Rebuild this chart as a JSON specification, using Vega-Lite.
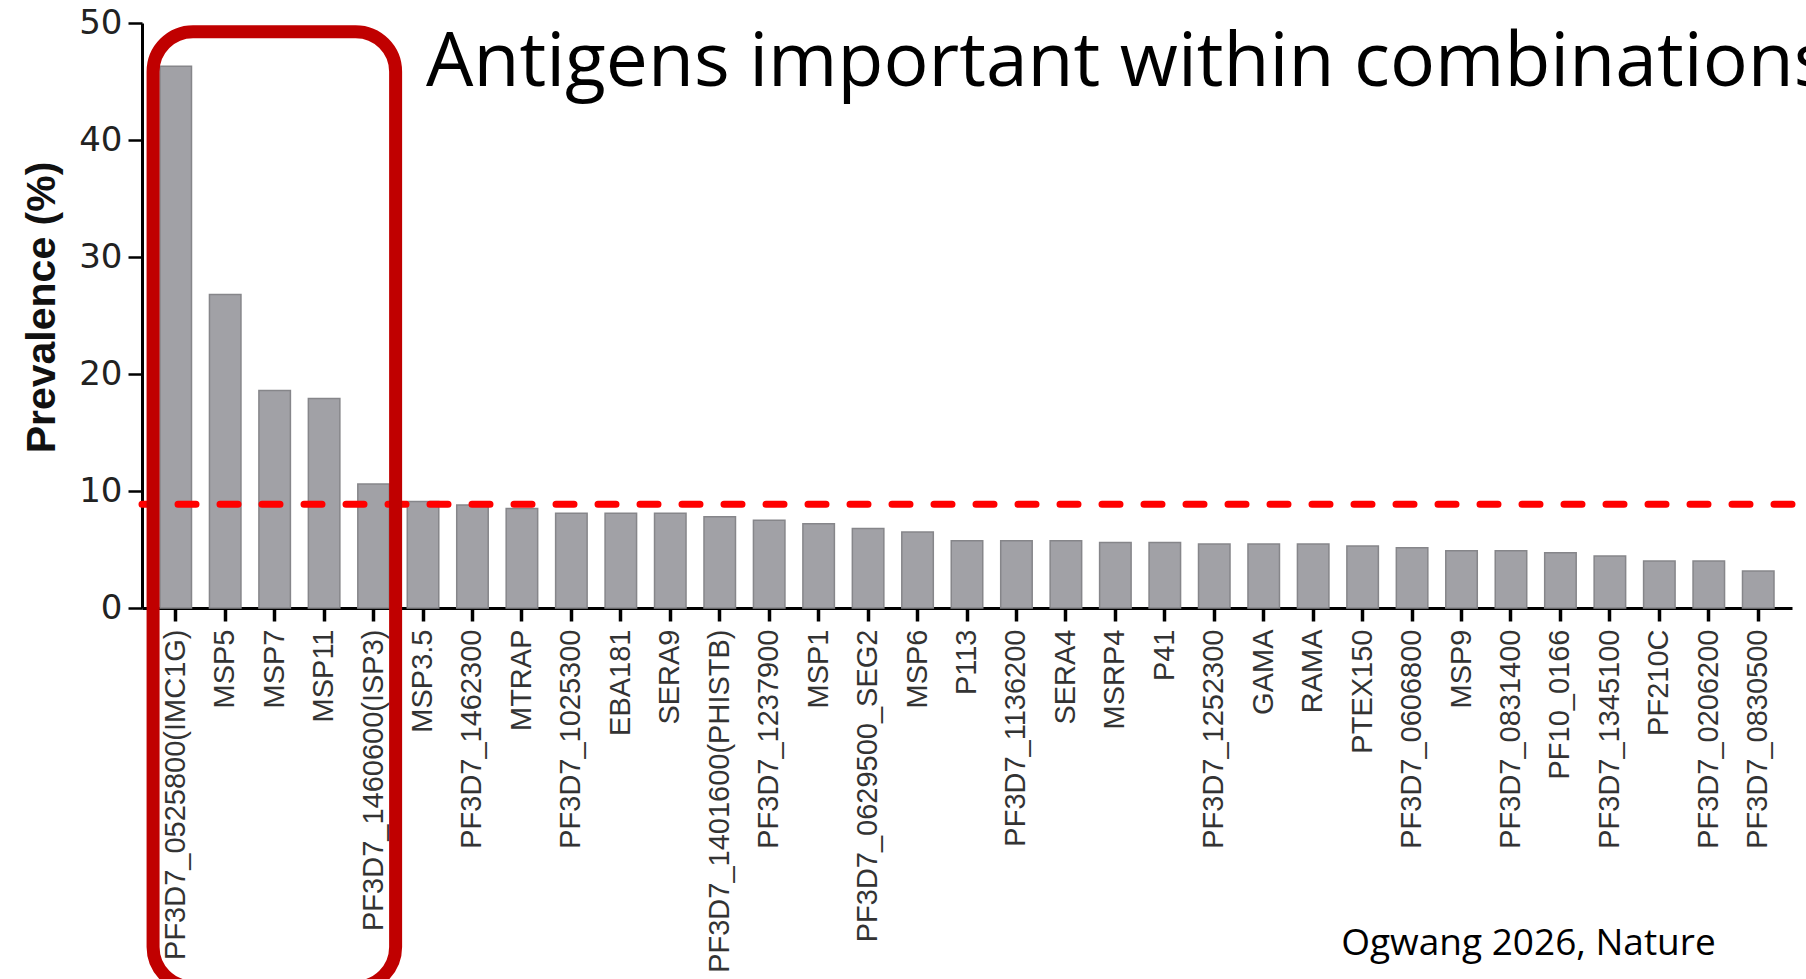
{
  "$schema": "https://vega.github.io/schema/vega-lite/v6.json",
  "width": 1650,
  "height": 585,
  "autosize": {"type": "none"},
  "padding": {"left": 142, "top": 23, "right": 14, "bottom": 371},
  "background": "white",
  "config": {"view": {"stroke": null}},
  "layer": [
    {
      "data": {"values": [
        {"antigen": "PF3D7_0525800(IMC1G)", "prevalence": 46.3},
        {"antigen": "MSP5", "prevalence": 26.8},
        {"antigen": "MSP7", "prevalence": 18.6},
        {"antigen": "MSP11", "prevalence": 17.9},
        {"antigen": "PF3D7_1460600(ISP3)", "prevalence": 10.6},
        {"antigen": "MSP3.5", "prevalence": 9.1},
        {"antigen": "PF3D7_1462300", "prevalence": 8.8},
        {"antigen": "MTRAP", "prevalence": 8.5},
        {"antigen": "PF3D7_1025300", "prevalence": 8.1},
        {"antigen": "EBA181", "prevalence": 8.1},
        {"antigen": "SERA9", "prevalence": 8.1},
        {"antigen": "PF3D7_1401600(PHISTB)", "prevalence": 7.8},
        {"antigen": "PF3D7_1237900", "prevalence": 7.5},
        {"antigen": "MSP1", "prevalence": 7.2},
        {"antigen": "PF3D7_0629500_SEG2", "prevalence": 6.8},
        {"antigen": "MSP6", "prevalence": 6.5},
        {"antigen": "P113", "prevalence": 5.75},
        {"antigen": "PF3D7_1136200", "prevalence": 5.75},
        {"antigen": "SERA4", "prevalence": 5.75},
        {"antigen": "MSRP4", "prevalence": 5.6},
        {"antigen": "P41", "prevalence": 5.6},
        {"antigen": "PF3D7_1252300", "prevalence": 5.47},
        {"antigen": "GAMA", "prevalence": 5.47},
        {"antigen": "RAMA", "prevalence": 5.47},
        {"antigen": "PTEX150", "prevalence": 5.3},
        {"antigen": "PF3D7_0606800", "prevalence": 5.16},
        {"antigen": "MSP9", "prevalence": 4.9},
        {"antigen": "PF3D7_0831400", "prevalence": 4.9},
        {"antigen": "PF10_0166", "prevalence": 4.73},
        {"antigen": "PF3D7_1345100", "prevalence": 4.44},
        {"antigen": "PF210C", "prevalence": 4.02},
        {"antigen": "PF3D7_0206200", "prevalence": 4.02},
        {"antigen": "PF3D7_0830500", "prevalence": 3.16}
      ]},
      "mark": {"type": "bar", "fill": "#a1a1a6", "stroke": "#86868a", "strokeWidth": 1.5},
      "encoding": {
        "x": {
          "field": "antigen", "type": "nominal",
          "scale": {
            "domain": ["PF3D7_0525800(IMC1G)", "MSP5", "MSP7", "MSP11", "PF3D7_1460600(ISP3)", "MSP3.5", "PF3D7_1462300", "MTRAP", "PF3D7_1025300", "EBA181", "SERA9", "PF3D7_1401600(PHISTB)", "PF3D7_1237900", "MSP1", "PF3D7_0629500_SEG2", "MSP6", "P113", "PF3D7_1136200", "SERA4", "MSRP4", "P41", "PF3D7_1252300", "GAMA", "RAMA", "PTEX150", "PF3D7_0606800", "MSP9", "PF3D7_0831400", "PF10_0166", "PF3D7_1345100", "PF210C", "PF3D7_0206200", "PF3D7_0830500"],
            "paddingInner": 0.363, "paddingOuter": 0.364
          },
          "axis": {
            "title": null, "labelAngle": -90, "labelFont": "Liberation Sans", "labelFontSize": 29,
            "labelColor": "#333333", "labelPadding": 8, "labelLimit": 1000, "tickSize": 13, "tickWidth": 3.5,
            "tickColor": "black", "domainColor": "black", "domainWidth": 3, "grid": false
          }
        },
        "y": {
          "field": "prevalence", "type": "quantitative",
          "scale": {"domain": [0, 50], "nice": false},
          "axis": {
            "values": [0, 10, 20, 30, 40, 50], "title": "Prevalence (%)", "titleFont": "Liberation Sans",
            "titleFontSize": 41, "titleFontWeight": "bold", "titleColor": "#111111", "titleX": -100, "titleY": 284,
            "titleBaseline": "middle", "titleAngle": -90, "titleAlign": "center",
            "labelFont": "DejaVu Sans", "labelFontSize": 34, "labelColor": "#222222", "labelPadding": 6,
            "tickSize": 14, "tickWidth": 2.5, "tickColor": "black", "domainColor": "black", "domainWidth": 3, "grid": false
          }
        }
      }
    },
    {
      "data": {"values": [{}]},
      "mark": {"type": "rule", "color": "#ff0000", "strokeWidth": 7, "strokeDash": [18, 24], "strokeCap": "round"},
      "encoding": {"y": {"datum": 8.86}}
    },
    {
      "data": {"values": [{}]},
      "mark": {"type": "rect", "filled": false, "stroke": "#c00000", "strokeWidth": 13, "cornerRadius": 40},
      "encoding": {
        "x": {"datum": "PF3D7_0525800(IMC1G)", "bandPosition": -0.22},
        "x2": {"datum": "PF3D7_1460600(ISP3)", "bandPosition": 1.2},
        "y": {"datum": 49.26},
        "y2": {"datum": -32.4}
      }
    },
    {
      "data": {"values": [{}]},
      "mark": {"type": "text", "text": "Antigens important within combinations", "font": "Open Sans", "fontSize": 75, "align": "left", "baseline": "alphabetic", "dx": 3, "color": "black"},
      "encoding": {"x": {"datum": "MSP3.5"}, "y": {"datum": 44.6}}
    },
    {
      "data": {"values": [{}]},
      "mark": {"type": "text", "text": "Ogwang 2026, Nature", "font": "Open Sans", "fontSize": 37, "align": "left", "baseline": "alphabetic", "dx": 28, "color": "black"},
      "encoding": {"x": {"datum": "RAMA"}, "y": {"datum": -29.66}}
    }
  ]
}
